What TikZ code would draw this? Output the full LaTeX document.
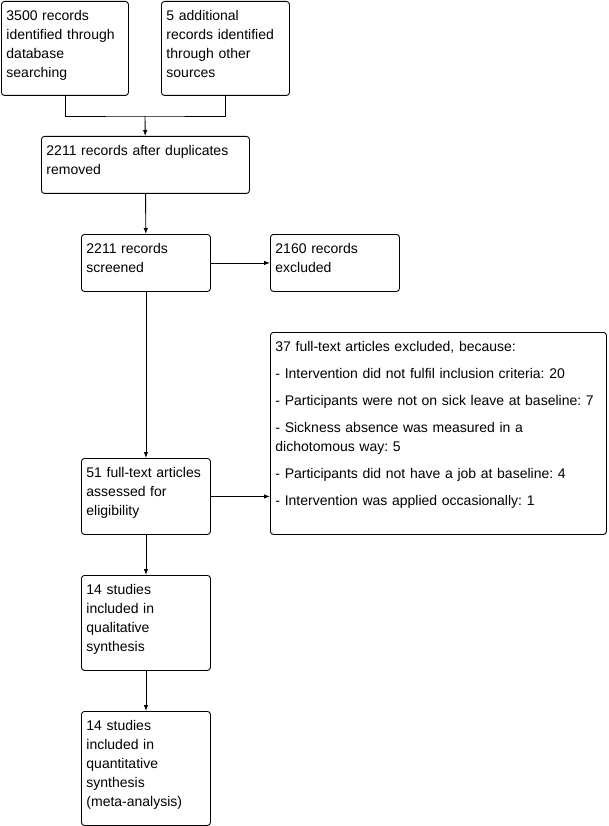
\documentclass[tikz,border=0pt]{standalone}
\usepackage{fontspec}
\setmainfont{Liberation Sans}
\usetikzlibrary{arrows.meta, positioning, calc}
\frenchspacing

\begin{document}
\begin{tikzpicture}[
        x=1pt, y=-1pt,
        box/.style={draw=black, line width=0.9pt, rounded corners=3pt, anchor=north west, align=left, font={\fontsize{14}{19}\selectfont}, inner xsep=5pt, inner ysep=0pt, text height=19pt},
        arrow/.style={-{Latex[length=6pt, width=4.5pt]}, line width=0.9pt, draw=black},
        link/.style={line width=0.9pt, draw=black}
    ]
        \useasboundingbox (0,0) rectangle (608,826);

        \node[box, text width=117pt, text depth=75pt] (database) at (1,1) {3500 records\\identified through\\database\\searching};
        \node[box, text width=118pt, text depth=75pt] (other) at (161,1) {5 additional\\records identified\\through other\\sources};
        \node[box, text width=198pt, text depth=38pt] (dedup) at (41,136) {2211 records after duplicates\\removed};
        \node[box, text width=119pt, text depth=38pt] (screened) at (81,234) {2211 records\\screened};
        \node[box, text width=119pt, text depth=38pt] (excluded) at (270,234) {2160 records\\excluded};
        \node[box, text width=326pt, text depth=183pt] (reasons) at (270,332) {37 full-text articles excluded, because:\\[8pt]- Intervention did not fulfil inclusion criteria: 20\\[8pt]- Participants were not on sick leave at baseline: 7\\[8pt]- Sickness absence was measured in a\\dichotomous way: 5\\[8pt]- Participants did not have a job at baseline: 4\\[8pt]- Intervention was applied occasionally: 1};
        \node[box, text width=119pt, text depth=57pt] (eligible) at (81,458) {51 full-text articles\\assessed for\\eligibility};
        \node[box, text width=119pt, text depth=76pt] (qualitative) at (81,575) {14 studies\\included in\\qualitative\\synthesis};
        \node[box, text width=119pt, text depth=95pt] (quantitative) at (81,711) {14 studies\\included in\\quantitative\\synthesis\\(meta-analysis)};

        \coordinate (merge) at (145,116);

        \draw[link] (database.south) |- (merge) -| (other.south);
        \draw[arrow] (merge) -- (dedup);
        \draw[arrow] (dedup) -- (screened);
        \draw[arrow] (screened) -- (excluded);
        \draw[arrow] (screened) -- (eligible);
        \draw[arrow] (eligible.east) -- (eligible.east -| reasons.west);
        \draw[arrow] (eligible) -- (qualitative);
        \draw[arrow] (qualitative) -- (quantitative);
    \end{tikzpicture}
\end{document}
